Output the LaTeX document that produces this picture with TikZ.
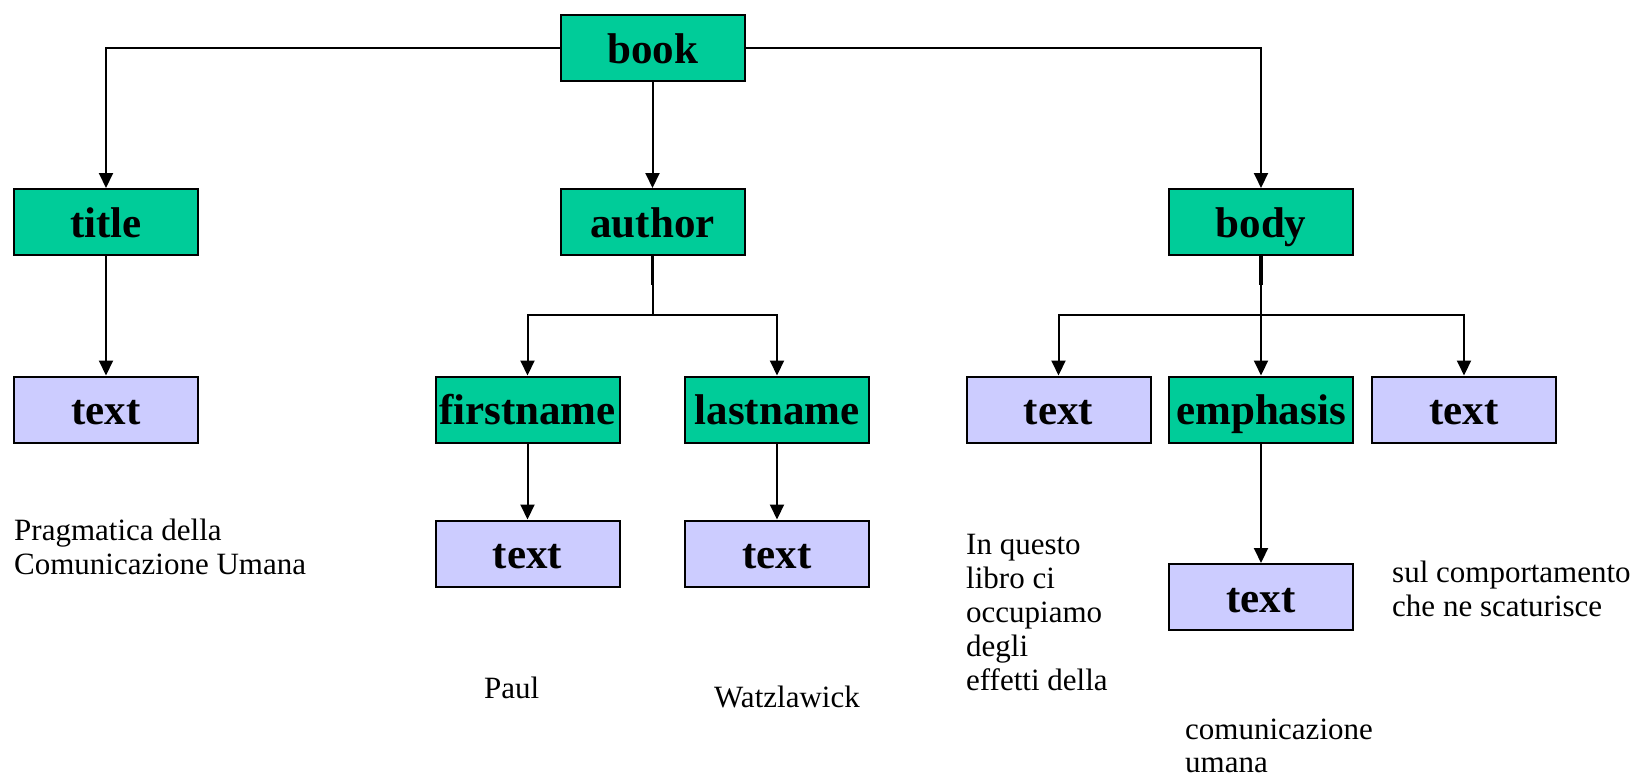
\documentclass[tikz,border=0pt]{standalone}
\usepackage{fontspec}
\setmainfont{Liberation Serif}
\usetikzlibrary{arrows.meta}
\definecolor{elemgreen}{RGB}{0,204,153}
\definecolor{textlilac}{RGB}{204,204,255}
\tikzset{
  elembox/.style={draw=black, line width=2pt, fill=elemgreen,
    minimum width=184pt, minimum height=66pt, inner sep=0pt,
    text height=32pt, text depth=2pt,
    font=\fontsize{43}{48}\selectfont\bfseries},
  textbox/.style={elembox, fill=textlilac},
  link/.style={line width=2pt, draw=black},
  arr/.style={link, -{Triangle[length=15pt,width=14pt]}},
  stub/.style={line width=3.5pt, draw=black},
  note/.style={anchor=north west, inner sep=0pt, align=left,
    font=\fontsize{31}{34}\selectfont}
}
\begin{document}
\begin{tikzpicture}[x=1pt,y=-1pt]
\useasboundingbox (0,0) rectangle (1637,777);

% element tree
\node[elembox] (book) at (652.5,48) {book};
\node[elembox] (title) at (106,222) {title};
\node[elembox] (author) at (652.5,222) {author};
\node[elembox] (body) at (1261,222) {body};

\node[textbox] (titletext) at (106,409.5) {text};
\node[elembox] (firstname) at (527.5,409.5) {firstname};
\node[elembox] (lastname) at (777,409.5) {lastname};
\node[textbox] (bodytextA) at (1058.5,409.5) {text};
\node[elembox] (emphasis) at (1261,409.5) {emphasis};
\node[textbox] (bodytextB) at (1464,409.5) {text};

\node[textbox] (firsttext) at (527.5,553.5) {text};
\node[textbox] (lasttext) at (777,553.5) {text};
\node[textbox] (emphtext) at (1261,597) {text};

% branching points
\coordinate (authorfork) at (652.5,315);
\coordinate (bodyfork) at (1261,315);

% connectors
\draw[arr] (book.west) -| (title.north);
\draw[arr] (book.east) -| (body.north);
\draw[arr] (book.south) -- (author.north);

\draw[arr] (title.south) -- (titletext.north);

\draw[stub] (author.south) -- ++(0,29);
\draw[link] (author.south) -- (authorfork);
\draw[arr] (authorfork) -| (firstname.north);
\draw[arr] (authorfork) -| (lastname.north);

\draw[stub] (body.south) -- ++(0,29);
\draw[arr] (body.south) -- (emphasis.north);
\draw[arr] (bodyfork) -| (bodytextA.north);
\draw[arr] (bodyfork) -| (bodytextB.north);

\draw[arr] (firstname.south) -- (firsttext.north);
\draw[arr] (lastname.south) -- (lasttext.north);
\draw[arr] (emphasis.south) -- (emphtext.north);

% character data
\node[note] (ttl) at (14,519) {Pragmatica della\\Comunicazione Umana};
\node[note] (fn) at (484,677) {Paul};
\node[note] (ln) at (714,686) {Watzlawick};
\node[note] (bt1) at (966,534) {In questo\\libro ci\\occupiamo\\degli\\effetti della};
\node[note] (bt2) at (1392,561) {sul comportamento\\che ne scaturisce};
\node[note, font=\fontsize{31}{33}\selectfont] (em) at (1185,719) {comunicazione\\umana};
\end{tikzpicture}
\end{document}
